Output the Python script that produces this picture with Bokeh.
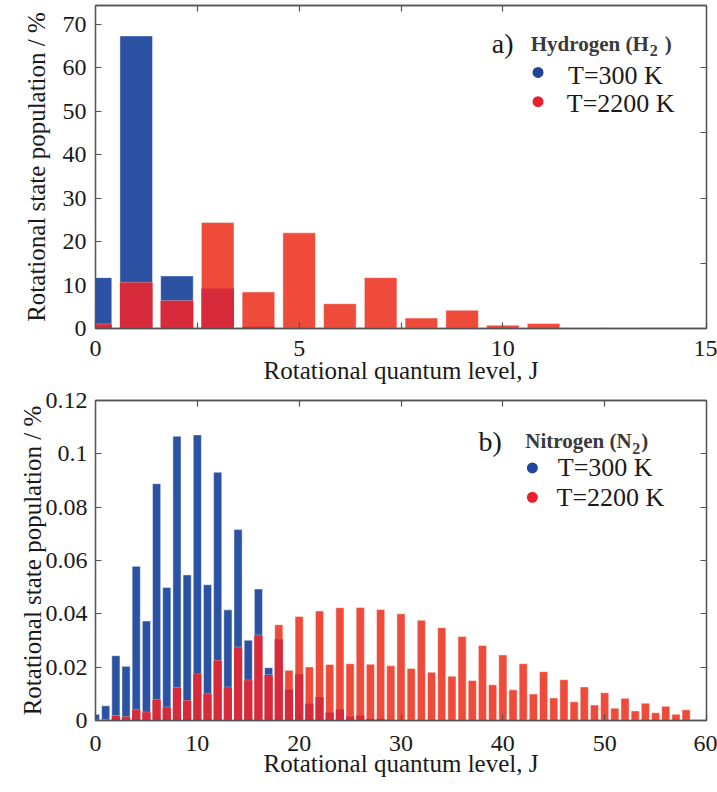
import numpy as np
from bokeh.plotting import figure
from bokeh.models import Range1d, LinearAxis, FixedTicker, Label
from bokeh.layouts import column
from bokeh.embed import file_html
from bokeh.resources import INLINE

# ---------------- data ----------------
# Hydrogen (H2), rotational level J = 0..13, population in %
h2_J = list(range(14))
h2_300 = [11.7, 67.3, 12.1, 9.2, 0.4, 0.1, 0, 0, 0, 0, 0, 0, 0, 0]
h2_2200 = [1.0, 10.6, 6.4, 24.4, 8.4, 22.0, 5.7, 11.7, 2.4, 4.2, 0.76, 1.15, 0.2, 0.2]

# Nitrogen (N2), J = 0..30 at 300 K, J = 0..58 at 2200 K
n2_J300 = list(range(31))
n2_300 = [0.0023, 0.0055, 0.0243, 0.0203, 0.0578, 0.0373, 0.0888, 0.0499, 0.1066, 0.0546,
          0.1071, 0.0509, 0.0931, 0.0415, 0.0716, 0.0301, 0.0493, 0.0198, 0.0305, 0.0116,
          0.0173, 0.0063, 0.0088, 0.0030, 0.0041, 0.0015, 0.0019, 0.0007, 0.0007, 0.0003,
          0.0002]
n2_J2200 = list(range(59))
n2_2200 = [0.0001, 0.0004, 0.0018, 0.0014, 0.0041, 0.0031, 0.0079, 0.0050, 0.0124, 0.0075,
           0.0174, 0.0100, 0.0225, 0.0125, 0.0275, 0.0151, 0.0320, 0.0171, 0.0359, 0.0188,
           0.0390, 0.0201, 0.0411, 0.0210, 0.0423, 0.0213, 0.0424, 0.0211, 0.0416, 0.0205,
           0.0400, 0.0195, 0.0376, 0.0181, 0.0348, 0.0166, 0.0315, 0.0150, 0.0281, 0.0134,
           0.0246, 0.0115, 0.0213, 0.0099, 0.0183, 0.0084, 0.0153, 0.0070, 0.0126, 0.0058,
           0.0104, 0.0046, 0.0083, 0.0036, 0.0065, 0.0029, 0.0053, 0.0023, 0.0040]

h2_xticks = [0, 5, 10, 15]
n2_xticks = [0, 10, 20, 30, 40, 50, 60]
h2_yticks = [0, 10, 20, 30, 40, 50, 60, 70]
n2_yticks = [0, 0.02, 0.04, 0.06, 0.08, 0.1, 0.12]

series_labels = ["T=300 K", "T=2200 K"]
x_title = "Rotational quantum level, J"
y_title = "Rotational state population / %"

# ---------------- style ----------------
FONT = "Liberation Serif"
BLUE = "#2b52a3"
RED = "#ee4b3b"
OVER = "#d72a3b"
DOT_BLUE = "#23449b"
DOT_RED = "#e8202e"
FRAME = "#555555"
TXT = "#1a1a1a"
TITLE_C = "#3a3a3a"


def style_axis(ax):
    ax.axis_line_color = FRAME
    ax.axis_line_width = 1.3
    ax.major_tick_line_color = FRAME
    ax.minor_tick_line_color = FRAME
    ax.major_tick_line_width = 1.2
    ax.minor_tick_line_width = 1.2
    ax.major_tick_in = 6
    ax.major_tick_out = 0
    ax.minor_tick_in = 6
    ax.minor_tick_out = 0
    ax.major_label_text_font = FONT
    ax.major_label_text_font_size = "24px"
    ax.major_label_text_color = TXT
    ax.axis_label_text_font = FONT
    ax.axis_label_text_font_size = "25px"
    ax.axis_label_text_font_style = "normal"
    ax.axis_label_text_color = TXT


def blank_axis(ticks):
    ax = LinearAxis(ticker=FixedTicker(ticks=ticks))
    style_axis(ax)
    ax.major_label_overrides = {t: "" for t in ticks}
    ax.major_label_text_font_size = "1px"
    ax.major_label_text_color = None
    ax.major_label_standoff = 0
    return ax


def make_bars(p, J300, v300, J2200, v2200):
    n = max(len(J300), len(J2200))
    b = np.zeros(n)
    r = np.zeros(n)
    b[:len(v300)] = v300
    r[:len(v2200)] = v2200
    Jall = np.arange(n)
    overlap = np.minimum(b, r)
    kw = dict(width=0.8, line_color="white", line_alpha=0.45, line_width=1)
    p.vbar(x=J300, top=v300, fill_color=BLUE, **kw)
    p.vbar(x=J2200, top=v2200, fill_color=RED, **kw)
    p.vbar(x=Jall, top=overlap, fill_color=OVER, width=0.8, line_color=None)


def add_text(p, x, y, text, size, style="normal", color=TXT):
    p.add_layout(Label(x=x, y=y, text=text, text_font=FONT, text_font_size=size,
                       text_font_style=style, text_color=color,
                       text_baseline="alphabetic", text_align="left"))


def base_fig(height, xr, yr, top):
    p = figure(width=717, height=height, x_range=xr, y_range=yr,
               output_backend="svg", toolbar_location=None,
               min_border_left=95, min_border_right=11, min_border_top=top)
    p.xaxis.visible = False
    p.yaxis.visible = False
    p.grid.visible = False
    p.outline_line_color = FRAME
    p.outline_line_width = 1.3
    return p


# ---------------- panel a) ----------------
p1 = base_fig(388, Range1d(0, 15), Range1d(0, 74.3), 5)
p1.min_border_bottom = 60

make_bars(p1, h2_J, h2_300, h2_J, h2_2200)

ax_b = LinearAxis(ticker=FixedTicker(ticks=h2_xticks, minor_ticks=[2.5, 7.5]), axis_label=x_title)
style_axis(ax_b)
ax_b.major_label_standoff = 12
ax_b.axis_label_standoff = -2
p1.add_layout(ax_b, "below")
ax_l = LinearAxis(ticker=FixedTicker(ticks=h2_yticks), axis_label=y_title)
style_axis(ax_l)
ax_l.major_label_standoff = 9
ax_l.axis_label_standoff = 10
p1.add_layout(ax_l, "left")
p1.add_layout(blank_axis([2.5, 5, 7.5, 10]), "above")
p1.add_layout(blank_axis([15, 30, 45, 60]), "right")

# legend a)
add_text(p1, 9.73, 65.5, "a)", "28px")
add_text(p1, 10.685, 65.4, "Hydrogen (H", "21px", style="bold", color=TITLE_C)
add_text(p1, 13.607, 64.0, "2", "16px", style="bold", color=TITLE_C)
add_text(p1, 13.975, 65.4, ")", "21px", style="bold", color=TITLE_C)
p1.scatter(x=[10.864, 10.864], y=[58.9, 52.18], size=11, color=[DOT_BLUE, DOT_RED], line_color=None)
add_text(p1, 11.60, 58.2, series_labels[0], "26px")
add_text(p1, 11.57, 51.8, series_labels[1], "26px")

# ---------------- panel b) ----------------
p2 = base_fig(404, Range1d(0, 60), Range1d(0, 0.12), 12)
p2.min_border_bottom = 72

make_bars(p2, n2_J300, n2_300, n2_J2200, n2_2200)

ax_b2 = LinearAxis(ticker=FixedTicker(ticks=n2_xticks), axis_label=x_title)
style_axis(ax_b2)
ax_b2.major_label_standoff = 15
ax_b2.axis_label_standoff = -4
p2.add_layout(ax_b2, "below")
ax_l2 = LinearAxis(ticker=FixedTicker(ticks=n2_yticks), axis_label=y_title)
style_axis(ax_l2)
ax_l2.major_label_standoff = 8
ax_l2.axis_label_standoff = -3
p2.add_layout(ax_l2, "left")
p2.add_layout(blank_axis([10, 20, 30, 40, 50]), "above")
p2.add_layout(blank_axis([0.02, 0.04, 0.06, 0.08, 0.1]), "right")

add_text(p2, 37.62, 0.1046, "b)", "28px")
add_text(p2, 42.21, 0.1047, "Nitrogen (N", "21px", style="bold", color=TITLE_C)
add_text(p2, 52.70, 0.1019, "2", "16px", style="bold", color=TITLE_C)
add_text(p2, 53.59, 0.1047, ")", "21px", style="bold", color=TITLE_C)
p2.scatter(x=[42.9, 42.9], y=[0.0947, 0.0837], size=11, color=[DOT_BLUE, DOT_RED], line_color=None)
add_text(p2, 45.40, 0.0947, series_labels[0], "26px")
add_text(p2, 45.27, 0.0838, series_labels[1], "26px")

layout = column(p1, p2, spacing=0)
open("out.html", "w").write(file_html(layout, INLINE))
